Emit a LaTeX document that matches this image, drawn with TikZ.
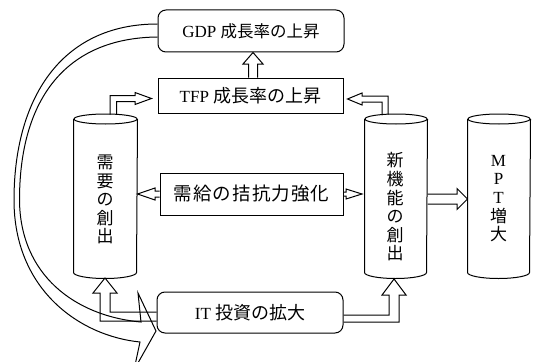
\documentclass[tikz,border=0pt]{standalone}
\usepackage{fontspec}
\setmainfont{Liberation Serif}
\newfontfamily\cjk{Noto Sans CJK JP}
\newfontfamily\cjkwide[LetterSpace=6]{Noto Sans CJK JP}
\usetikzlibrary{calc}
\begin{document}
\begin{tikzpicture}[x=1pt,y=-1pt,line width=1pt,line join=miter,
  rbox/.style={draw, rounded corners=8pt, inner sep=0pt, font=\fontsize{17}{20}\selectfont},
  sbox/.style={draw, inner sep=0pt, font=\fontsize{17}{20}\selectfont},
  cylbody/.style={inner sep=0pt, minimum width=63pt, minimum height=152.5pt},
  vtext/.style={align=center, inner sep=0pt, font=\cjk\fontsize{17}{18.6}\selectfont},
  hollow/.style={draw, line width=1pt}]
\useasboundingbox (0,0) rectangle (540,361);

% boxes
\node[rbox, minimum width=186pt, minimum height=42pt] (gdp) at (251,31)
  {GDP {\cjk\fontsize{16.5}{18}\selectfont 成長率の上昇}};
\node[sbox, minimum width=185pt, minimum height=35pt] (tfp) at (250.5,95.5)
  {TFP {\cjk\fontsize{18}{18}\selectfont 成長率の上昇}};
\node[sbox, minimum width=183pt, minimum height=42pt] (kin) at (251.5,194)
  {\cjkwide\fontsize{18.5}{20}\selectfont 需給の拮抗力強化};
\node[rbox, minimum width=186pt, minimum height=41pt] (it) at (250,312.5)
  {IT {\cjk\fontsize{18}{18}\selectfont 投資の拡大}};

% cylinders
\node[cylbody] (dem) at (105.5,195.75) {};
\node[cylbody, minimum width=62pt] (nf) at (396,195.75) {};
\node[cylbody, minimum width=62pt] (mpt) at (499,195.75) {};
\foreach \c/\r in {dem/31.5pt, nf/31pt, mpt/31pt}{
  \draw (\c.north west) -- (\c.south west)
        arc[start angle=180, end angle=360, x radius=\r, y radius=6pt]
        -- (\c.north east);
  \draw (\c.north) ellipse[x radius=\r, y radius=5pt];
}
\node[vtext] (demt) at (105,199.5) {需\\要\\の\\創\\出};
\node[vtext] (nft) at (395,207) {新\\機\\能\\の\\創\\出};
\node[vtext] (mptt) at (498.5,198.5) {{\rmfamily M}\\{\rmfamily P}\\{\rmfamily T}\\増\\大};

% big curved feedback arrow (GDP -> IT region)
\draw[hollow] ($(gdp.west)+(0,-7)$) .. controls (60,24) and (14,100) .. (14,200)
  .. controls (14,290) and (80,336) .. (140,342)
  -- (134,370) -- (156,331) -- (138,293) -- (141,322)
  .. controls (75,316) and (20,275) .. (19.5,200)
  .. controls (19.5,100) and (65,38) .. ($(gdp.west)+(0,6)$);

% TFP -> GDP
\draw[hollow] ($(tfp.north)+(-2,0)$) -- (248.5,64) -- (243,64) -- (gdp.south -| 253,0)
  -- (263,64) -- (257.5,64) -- ($(tfp.north)+(7,0)$);

% demand cylinder -> TFP
\draw[hollow] (110,114.6) -- (110,95.5) -- (135,95.5) -- (135,92.5) -- ($(tfp.west)+(-6,3)$)
  -- (135,104.5) -- (135,101.5) -- (116.5,101.5) -- (116.5,114.8);

% new-function cylinder -> TFP
\draw[hollow] (382,115) -- (382,102) -- (362,102) -- (362,105) -- ($(tfp.east)+(4,3.5)$)
  -- (362,93) -- (362,96) -- (388,96) -- (388,114.7);

% kin box -> both cylinders
\draw[hollow] ($(kin.west)+(0,-3)$) -- (155,191) -- (155,188) -- (dem.east |- 0,194)
  -- (155,200) -- (155,197) -- ($(kin.west)+(0,3)$);
\draw[hollow] ($(kin.east)+(0,-2)$) -- (346,192) -- (346,189) -- (362,194)
  -- (346,199) -- (346,196) -- ($(kin.east)+(0,2)$);

% new-function cylinder -> MPT
\draw[hollow] (nf.east |- 0,194) -- (457,194) -- (457,188.5) -- (mpt.west |- 0,199)
  -- (457,209.5) -- (457,204) -- (nf.east |- 0,204);

% IT -> demand cylinder
\draw[hollow] ($(it.west)+(0,-0.5)$) -- (110,312) -- (110,293) -- (117,293) -- (105,278)
  -- (93,293) -- (100,293) -- (100,321) -- ($(it.west)+(0,8.5)$);

% IT -> new-function cylinder
\draw[hollow] ($(it.east)+(0,2.5)$) -- (389,315) -- (389,295) -- (382,295) -- (394,279)
  -- (406,295) -- (399,295) -- (399,322) -- ($(it.east)+(0,9.5)$);
\end{tikzpicture}
\end{document}
